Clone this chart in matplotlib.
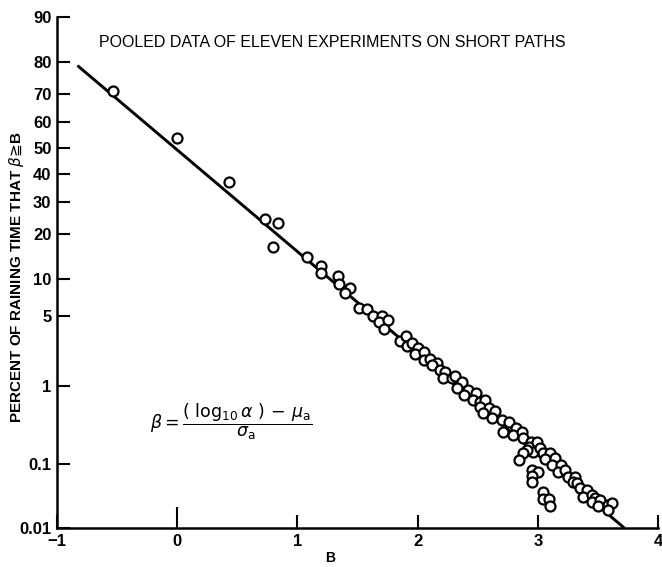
import numpy as np
import matplotlib
matplotlib.use("Agg")
import matplotlib.pyplot as plt
from statistics import NormalDist

# Data
B = [-0.53, 0.00, 0.43, 0.73, 0.84, 0.80, 1.08, 1.20, 1.20, 1.34, 1.35, 1.44, 1.40,
     1.51, 1.58, 1.63, 1.70, 1.68, 1.75, 1.72,
     1.85, 1.90, 1.91, 1.95, 2.00, 1.98, 2.05, 2.05,
     2.10, 2.16, 2.12, 2.19, 2.23, 2.21, 2.29, 2.31, 2.37, 2.33, 2.42, 2.39, 2.49,
     2.46, 2.52, 2.56, 2.52, 2.59, 2.54, 2.64, 2.62, 2.70, 2.76,
     2.71, 2.82, 2.79, 2.87, 2.88, 2.94, 2.93, 2.99, 2.96, 3.02, 3.04, 2.91, 3.10,
     3.06, 3.14, 3.12, 3.19, 3.17, 3.23, 3.25, 3.31, 3.29, 3.33, 3.35, 3.41, 3.38,
     3.45, 3.48, 3.45, 3.52, 3.50, 3.58, 3.62, 3.58]
pct = [71, 54, 37, 24.4, 23.2, 16.6, 14.3, 12.4, 11.1, 10.5, 9.2, 8.5, 7.8,
       5.9, 5.8, 5.0, 5.0, 4.4, 4.6, 3.8,
       2.95, 3.3, 2.64, 2.82, 2.52, 2.19, 2.30, 1.90,
       1.95, 1.77, 1.69, 1.49, 1.42, 1.22, 1.22, 1.28, 1.10, 0.94, 0.89, 0.78, 0.83,
       0.68, 0.65, 0.68, 0.56, 0.55, 0.48, 0.50, 0.41, 0.39, 0.37,
       0.27, 0.31, 0.25, 0.27, 0.23, 0.20, 0.17, 0.20, 0.146, 0.167, 0.142, 0.156, 0.142,
       0.117, 0.121, 0.096, 0.096, 0.076, 0.081, 0.064, 0.064, 0.054, 0.052, 0.044, 0.041, 0.032,
       0.034, 0.031, 0.027, 0.029, 0.023, 0.024, 0.026, 0.020]

# points falling off below the line near B = 3
B_low = [2.88, 2.84, 2.95, 3.00, 2.95, 2.95, 3.04, 3.04, 3.09, 3.10]
pct_low = [0.142, 0.113, 0.081, 0.076, 0.067, 0.054, 0.038, 0.030, 0.030, 0.023]

# fitted line
line_B = [-0.83, 3.72]
line_pct = [79, 0.01]

yticks = [0.01, 0.1, 1, 5, 10, 20, 30, 40, 50, 60, 70, 80, 90]
ytick_labels = ["0.01", "0.1", "1", "5", "10", "20", "30", "40", "50", "60", "70", "80", "90"]
xticks = [-1, 0, 1, 2, 3, 4]

# normal probability scale for the y axis
nd = NormalDist()
_ppf = np.vectorize(nd.inv_cdf, otypes=[float])
_cdf = np.vectorize(nd.cdf, otypes=[float])


def to_z(p):
    p = np.clip(np.asarray(p, dtype=float) / 100.0, 1e-9, 1 - 1e-9)
    return _ppf(p)


def from_z(z):
    return 100.0 * _cdf(np.asarray(z, dtype=float))


plt.rcParams["font.family"] = ["Liberation Sans", "DejaVu Sans"]

fig = plt.figure(figsize=(6.62, 5.67), dpi=100)
ax = fig.add_axes([57 / 662, 1 - 528 / 567, 601 / 662, 511 / 567])
ax.set_yscale("function", functions=(to_z, from_z))

ax.plot(line_B, line_pct, color="black", lw=2.1, solid_capstyle="butt", zorder=2)
ax.plot(B, pct, "o", ms=7.2, mfc="white", mec="black", mew=1.6, zorder=3)
ax.plot(B_low, pct_low, "o", ms=7.2, mfc="white", mec="black", mew=1.6, zorder=3)

ax.set_xlim(-1, 4)
ax.set_ylim(0.01, 90)

ax.set_yticks(yticks)
ax.set_yticklabels(ytick_labels)
ax.yaxis.set_minor_locator(matplotlib.ticker.NullLocator())
ax.set_xticks(xticks)
ax.set_xticklabels(["\u22121", "0", "1", "2", "3", "4"])

ax.spines["top"].set_visible(False)
ax.spines["right"].set_visible(False)
for s in ["left", "bottom"]:
    ax.spines[s].set_linewidth(1.8)

ax.tick_params(axis="both", direction="in", width=1.5, labelsize=12)
ax.tick_params(axis="y", length=9, pad=4)
ax.tick_params(axis="x", length=9.5, pad=4)
for lab in ax.get_xticklabels() + ax.get_yticklabels():
    lab.set_fontweight("bold")

# longer tick at B = 0
ax.xaxis.get_major_ticks()[1].tick1line.set_markersize(15)

ax.text(0.4576, 0.951, "POOLED DATA OF ELEVEN EXPERIMENTS ON SHORT PATHS",
        transform=ax.transAxes, ha="center", va="center", fontsize=11.5)

ax.text(0.155, 0.207,
        r"$\beta = \dfrac{(\ \mathrm{log}_{10}\,\alpha\ ) \,-\, \mu_\mathrm{a}}{\sigma_\mathrm{a}}$",
        transform=ax.transAxes, ha="left", va="center", fontsize=12.5)

fig.text(330 / 662, 1 - 558 / 567, "B", ha="center", va="center",
         fontsize=10, fontweight="bold")
fig.text(17 / 662, 1 - 277 / 567, "PERCENT OF RAINING TIME THAT $\\beta \u2267$B",
         rotation=90, ha="center", va="center", fontsize=11, fontweight="bold")

fig.savefig("out.png", dpi=100)
